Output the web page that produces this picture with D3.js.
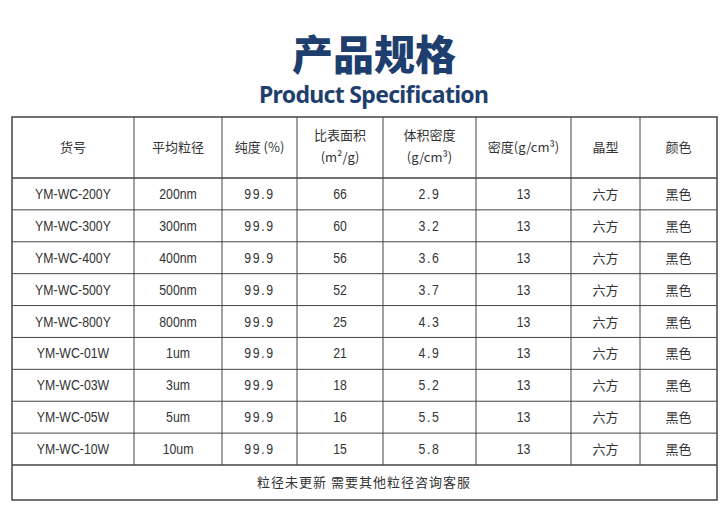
<!DOCTYPE html>
<html><head><meta charset="utf-8">
<script src="https://cdn.jsdelivr.net/npm/d3@7"></script>
<style>body{margin:0;background:#fff}</style></head>
<body><svg id="c" width="727" height="510"></svg>
<script>
const headers = ["货号","平均粒径","纯度 (%)","比表面积|(m²/g)","体积密度|(g/cm³)","密度(g/cm³)","晶型","颜色"];
const codes = ["YM-WC-200Y","YM-WC-300Y","YM-WC-400Y","YM-WC-500Y","YM-WC-800Y","YM-WC-01W","YM-WC-03W","YM-WC-05W","YM-WC-10W"];
const sizes = ["200nm","300nm","400nm","500nm","800nm","1um","3um","5um","10um"];
const purity = [99.9,99.9,99.9,99.9,99.9,99.9,99.9,99.9,99.9];
const ssa = [66,60,56,52,25,21,18,16,15];
const bulk = [2.9,3.2,3.6,3.7,4.3,4.9,5.2,5.5,5.8];
const density = [13,13,13,13,13,13,13,13,13];
const crystal = "六方", color = "黑色";
const note = "粒径未更新 需要其他粒径咨询客服";

const svg = d3.select("#c");
const edges = [12,134,222,297,383,476,571,640,717];
const rowsY = d3.scaleLinear().domain([0,9]).range([178,465]);
const cx = i => (edges[i]+edges[i+1])/2;
const ink = "#333";

svg.append("text").attr("x",374).attr("y",70).attr("text-anchor","middle")
  .attr("font-family","Noto Sans CJK SC").attr("font-weight",900).attr("font-size",41)
  .attr("fill","#1e3f6e").text("产品规格");
svg.append("text").attr("x",374).attr("y",103).attr("text-anchor","middle")
  .attr("font-family","Noto Sans").attr("font-weight",700).attr("font-size",23)
  .attr("fill","#1e3f6e").attr("textLength",230).text("Product Specification");

const g = svg.append("g");
g.append("rect").attr("x",12).attr("y",117).attr("width",705).attr("height",383)
  .attr("fill","none").attr("stroke","#444").attr("stroke-width",1.5);
edges.slice(1,-1).forEach(x=>g.append("line").attr("x1",x).attr("x2",x).attr("y1",117).attr("y2",rowsY(9)).attr("stroke","#444"));
d3.range(10).forEach(i=>g.append("line").attr("x1",12).attr("x2",717).attr("y1",rowsY(i)).attr("y2",rowsY(i)).attr("stroke","#444").attr("stroke-width",i==0||i==9?1.5:1));

headers.forEach((h,i)=>{
  const parts=h.split("|");
  parts.forEach((p,k)=>{
    const y = parts.length==1?152:140+k*22;
    g.append("text").attr("x",cx(i)).attr("y",y).attr("text-anchor","middle")
      .attr("font-family","Noto Sans CJK SC").attr("font-size",13).attr("fill",ink).text(p);
  });
});
const rows = codes.map((c,i)=>[c,sizes[i],purity[i].toFixed(1),ssa[i],bulk[i].toFixed(1),density[i],crystal,color]);
rows.forEach((r,ri)=>{
  const y=(rowsY(ri)+rowsY(ri+1))/2+5;
  r.forEach((v,ci)=>{
    const cjk = ci>=6;
    const t = g.append("text").attr("text-anchor","middle")
      .attr("transform", cjk?`translate(${cx(ci)},${y})`:`translate(${cx(ci)},${y}) scale(0.82,1)`)
      .attr("font-family",cjk?"Noto Sans CJK SC":"Liberation Sans")
      .attr("font-size",cjk?13:15).attr("letter-spacing",(ci==2||ci==4)?2:0)
      .attr("fill",ink).text(v);
  });
});
g.append("text").attr("x",364).attr("y",487).attr("text-anchor","middle")
  .attr("font-family","Noto Sans CJK SC").attr("font-size",13).attr("letter-spacing",1).attr("fill",ink).text(note);
</script></body></html>
